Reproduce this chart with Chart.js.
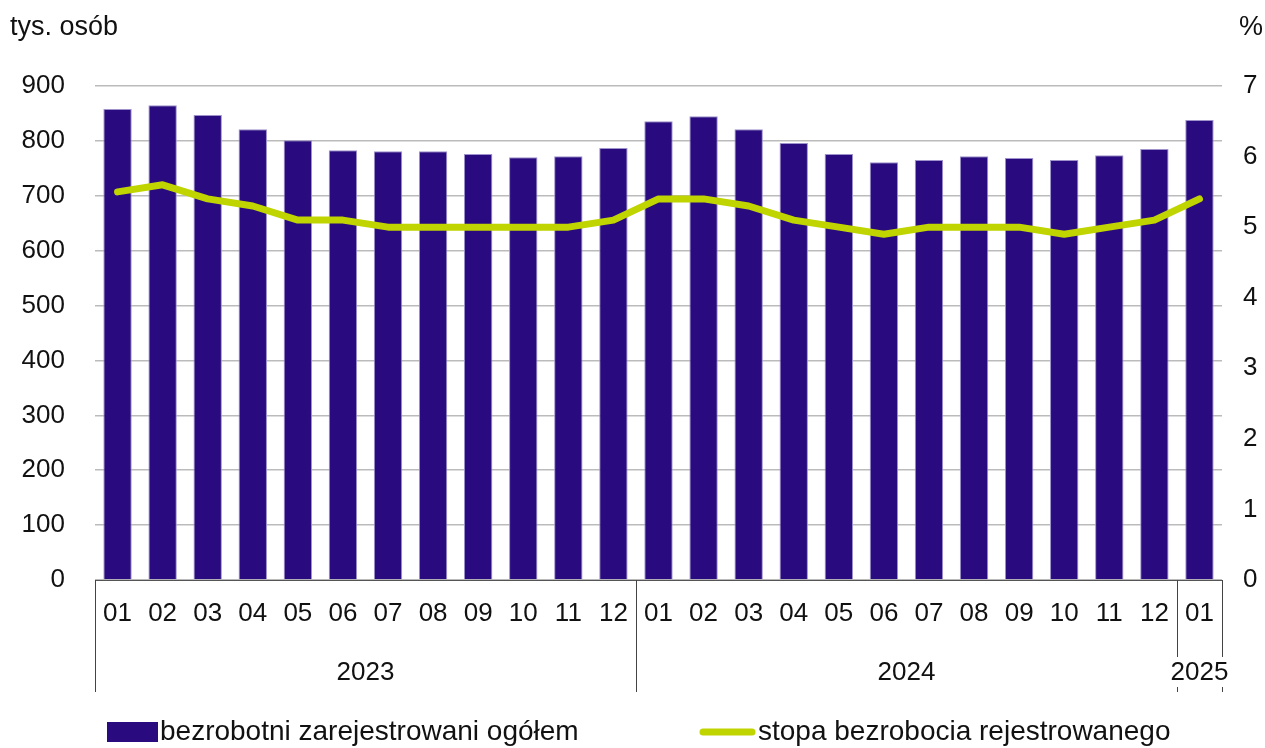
<!DOCTYPE html>
<html lang="pl">
<head>
<meta charset="utf-8">
<title>Bezrobocie rejestrowane</title>
<script src="https://cdn.jsdelivr.net/npm/chart.js@4"></script>
<style>
  html, body { margin: 0; padding: 0; background: #fff; }
  #wrap { width: 1265px; height: 748px; }
</style>
</head>
<body>
<div id="wrap"><canvas id="chart" width="1265" height="748"></canvas></div>
<script>
// Months (x categories)
const months = ['01', '02', '03', '04', '05', '06', '07', '08', '09', '10', '11', '12',
                '01', '02', '03', '04', '05', '06', '07', '08', '09', '10', '11', '12',
                '01'];
// Year groups under the month labels
const years = ['2023', '2024', '2025'];
const yearSpans = [12, 12, 1];

// bezrobotni zarejestrowani ogółem (tys. osób)
const unemployed = [858, 865, 847, 821, 801, 783, 781, 781, 776, 770, 772, 787,
                    836, 845, 821, 796, 776, 761, 765, 772, 769, 765, 774, 785,
                    838];
// stopa bezrobocia rejestrowanego (%)
const rate = [5.5, 5.6, 5.4, 5.3, 5.1, 5.1, 5.0, 5.0, 5.0, 5.0, 5.0, 5.1,
              5.4, 5.4, 5.3, 5.1, 5.0, 4.9, 5.0, 5.0, 5.0, 4.9, 5.0, 5.1,
              5.4];

const leftAxis = { min: 0, max: 900, step: 100 };
const rightAxis = { min: 0, max: 7, step: 1 };

const seriesNames = ['bezrobotni zarejestrowani ogółem', 'stopa bezrobocia rejestrowanego'];
const BAR_COLOR = '#290b7f';
const LINE_COLOR = '#c0d400';
const FONT = "'Liberation Sans', Arial, sans-serif";
const TEXT = '#111';

// Draws titles, year groups and the legend
const decorations = {
  id: 'decorations',
  afterDraw(chart) {
    const ctx = chart.ctx;
    const x = chart.scales.x;
    const area = chart.chartArea;
    ctx.save();
    ctx.fillStyle = TEXT;
    ctx.font = '27px ' + FONT;
    ctx.textBaseline = 'middle';

    // axis titles
    ctx.textAlign = 'left';
    ctx.fillText('tys. osób', 10, 28);
    ctx.textAlign = 'right';
    ctx.fillText('%', 1263, 28);

    // year group separators and labels
    ctx.font = '26px ' + FONT;
    const half = (x.getPixelForValue(1) - x.getPixelForValue(0)) / 2;
    let start = 0;
    const bounds = [];
    years.forEach((year, i) => {
      const end = start + yearSpans[i] - 1;
      const x0 = x.getPixelForValue(start) - half;
      const x1 = x.getPixelForValue(end) + half;
      bounds.push([x0, x1, year]);
      start = end + 1;
    });

    ctx.strokeStyle = '#444';
    ctx.lineWidth = 1;
    const edges = new Set();
    bounds.forEach(b => { edges.add(Math.round(b[0]) + 0.5); edges.add(Math.round(b[1]) + 0.5); });
    edges.forEach(px => {
      ctx.beginPath();
      ctx.moveTo(px, area.bottom);
      ctx.lineTo(px, 692);
      ctx.stroke();
    });

    ctx.textAlign = 'center';
    bounds.forEach(([x0, x1, year]) => {
      const cx = (x0 + x1) / 2;
      const w = ctx.measureText(year).width;
      if (w > x1 - x0) {
        ctx.fillStyle = '#fff';
        ctx.fillRect(cx - w / 2 - 2, 657, w + 4, 30);
        ctx.fillStyle = TEXT;
      }
      ctx.fillText(year, cx, 673);
    });

    // legend
    const ly = 732;
    ctx.font = '28px ' + FONT;
    ctx.textAlign = 'left';
    ctx.fillStyle = BAR_COLOR;
    ctx.fillRect(107, ly - 10, 51, 20);
    ctx.fillStyle = TEXT;
    ctx.fillText(seriesNames[0], 160, ly);

    ctx.strokeStyle = LINE_COLOR;
    ctx.lineWidth = 7;
    ctx.lineCap = 'round';
    ctx.beginPath();
    ctx.moveTo(703, ly);
    ctx.lineTo(752, ly);
    ctx.stroke();
    ctx.fillText(seriesNames[1], 758, ly);

    ctx.restore();
  }
};

new Chart(document.getElementById('chart'), {
  data: {
    labels: months,
    datasets: [
      {
        type: 'line',
        label: seriesNames[1],
        data: rate,
        yAxisID: 'y1',
        borderColor: LINE_COLOR,
        borderWidth: 7,
        borderCapStyle: 'round',
        borderJoinStyle: 'round',
        pointRadius: 0,
        tension: 0,
        order: 0
      },
      {
        type: 'bar',
        label: seriesNames[0],
        data: unemployed,
        yAxisID: 'y',
        backgroundColor: BAR_COLOR,
        borderColor: '#9d92cc',
        borderWidth: 1,
        categoryPercentage: 1,
        barPercentage: 0.63,
        order: 1
      }
    ]
  },
  options: {
    responsive: false,
    animation: false,
    layout: { padding: { top: 86, left: 0, right: 0, bottom: 0 } },
    plugins: {
      legend: { display: false },
      tooltip: { enabled: false }
    },
    scales: {
      x: {
        grid: { display: false, drawTicks: false },
        border: { display: true, color: '#555', width: 1 },
        ticks: {
          color: TEXT,
          font: { family: FONT, size: 26 },
          padding: 18,
          maxRotation: 0,
          autoSkip: false
        },
        afterFit(scale) { scale.height = 168; }
      },
      y: {
        position: 'left',
        min: leftAxis.min,
        max: leftAxis.max,
        grid: { color: '#bbbbbb', lineWidth: 1.5, drawTicks: false },
        border: { display: false },
        ticks: {
          stepSize: leftAxis.step,
          color: TEXT,
          font: { family: FONT, size: 26 },
          padding: 30
        },
        afterFit(scale) { scale.width = 95; }
      },
      y1: {
        position: 'right',
        min: rightAxis.min,
        max: rightAxis.max,
        grid: { display: false, drawTicks: false },
        border: { display: false },
        ticks: {
          stepSize: rightAxis.step,
          color: TEXT,
          font: { family: FONT, size: 26 },
          padding: 21
        },
        afterFit(scale) { scale.width = 43; }
      }
    }
  },
  plugins: [decorations]
});
</script>
</body>
</html>
